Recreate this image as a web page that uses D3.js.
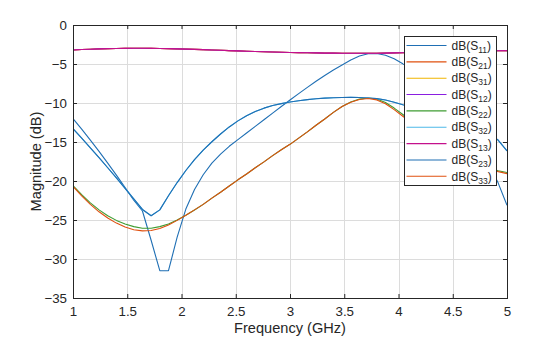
<!DOCTYPE html>
<html>
<head>
<meta charset="utf-8">
<script src="https://cdn.jsdelivr.net/npm/d3@7/dist/d3.min.js"></script>
<style>
  html, body { margin: 0; padding: 0; background: #ffffff; }
  svg { display: block; font-family: "Liberation Sans", Arial, Helvetica, sans-serif; }
</style>
</head>
<body>
<svg id="chart" width="560" height="337"></svg>
<script>
// Frequency sweep: 51 points from 1 to 5 GHz
const freqGHz = [1.00,1.08,1.16,1.24,1.32,1.40,1.48,1.56,1.64,1.72,1.80,1.88,1.96,2.04,2.12,2.20,2.28,2.36,2.44,2.52,
  2.60,2.68,2.76,2.84,2.92,3.00,3.08,3.16,3.24,3.32,3.40,3.48,3.56,3.64,3.72,3.80,3.88,3.96,4.04,4.12,
  4.20,4.28,4.36,4.44,4.52,4.60,4.68,4.76,4.84,4.92,5.00];

// Input reflection
const s11 = [-12.0,-13.35,-14.75,-16.2,-17.7,-19.25,-20.85,-22.45,-23.85,-27.6,-31.5,-31.5,-27.2,-23.6,-21.1,-19.2,-17.7,-16.55,-15.55,-14.7,
  -13.85,-13.0,-12.15,-11.3,-10.45,-9.62,-8.8,-8.0,-7.22,-6.48,-5.78,-5.13,-4.5,-3.98,-3.68,-3.65,-3.88,-4.33,-4.98,-5.67,
  -6.45,-7.35,-8.4,-9.6,-10.95,-12.45,-14.1,-15.95,-18.0,-20.3,-23.1];

// Transmission 1 <-> 2 and 1 <-> 3 (reciprocal, equal split)
const sThrough = [-3.2,-3.15,-3.1,-3.06,-3.03,-3.01,-3.0,-2.99,-2.99,-3.0,-3.01,-3.03,-3.06,-3.09,-3.12,-3.16,-3.2,-3.24,-3.28,-3.32,
  -3.36,-3.4,-3.43,-3.46,-3.49,-3.52,-3.54,-3.56,-3.58,-3.6,-3.61,-3.62,-3.63,-3.63,-3.63,-3.62,-3.6,-3.58,-3.55,-3.52,
  -3.49,-3.46,-3.43,-3.41,-3.38,-3.36,-3.34,-3.32,-3.31,-3.3,-3.29];

// Output port reflections
const s22 = [-20.6,-21.75,-22.8,-23.7,-24.45,-25.05,-25.5,-25.85,-26.05,-26.05,-25.85,-25.5,-25.0,-24.4,-23.72,-23.0,-22.2,-21.45,-20.65,-19.85,
  -19.1,-18.3,-17.55,-16.75,-16.0,-15.3,-14.5,-13.7,-12.85,-12.05,-11.2,-10.45,-9.88,-9.5,-9.35,-9.48,-9.93,-10.65,-11.48,-12.32,
  -13.17,-14.02,-14.83,-15.6,-16.3,-16.92,-17.48,-17.95,-18.36,-18.68,-18.92];
const s33 = [-20.7,-21.9,-23.0,-23.95,-24.75,-25.4,-25.9,-26.25,-26.4,-26.35,-26.1,-25.65,-25.05,-24.4,-23.7,-23.0,-22.2,-21.45,-20.65,-19.85,
  -19.1,-18.3,-17.55,-16.75,-16.0,-15.3,-14.5,-13.7,-12.85,-12.05,-11.2,-10.45,-9.9,-9.55,-9.42,-9.6,-10.1,-10.85,-11.7,-12.55,
  -13.4,-14.25,-15.05,-15.8,-16.5,-17.1,-17.65,-18.1,-18.5,-18.8,-19.05];

// Isolation between output ports (reciprocal)
const s23 = [-13.3,-14.5,-15.75,-17.0,-18.3,-19.6,-20.95,-22.3,-23.65,-24.45,-23.7,-21.9,-20.2,-18.65,-17.25,-16.03,-14.97,-13.97,-13.07,-12.29,
  -11.63,-11.09,-10.66,-10.32,-10.08,-9.88,-9.71,-9.57,-9.46,-9.38,-9.32,-9.29,-9.28,-9.3,-9.35,-9.44,-9.62,-9.9,-10.22,-10.5,
  -10.78,-11.07,-11.37,-11.69,-12.04,-12.43,-12.87,-13.38,-13.98,-14.78,-16.15];

const seriesNames = ["11","21","31","12","22","32","13","23","33"];
const seriesValues = [s11, sThrough, sThrough, sThrough, s22, s23, sThrough, s23, s33];
const seriesColors = ["#1f6fb4","#e0500f","#f0b400","#8a1ee0","#3f9c32","#4db8e8","#c4108c","#1f6fb4","#e0500f"];

const xTicks = [1,1.5,2,2.5,3,3.5,4,4.5,5];
const yTicks = [0,-5,-10,-15,-20,-25,-30,-35];

const svg = d3.select("#chart");
const plot = {left: 73, right: 507, top: 25, bottom: 298};
const axisColor = "#262626";

const x = d3.scaleLinear().domain([1, 5]).range([plot.left, plot.right]);
const y = d3.scaleLinear().domain([-35, 0]).range([plot.bottom, plot.top]);

// white plot background
svg.append("rect")
  .attr("x", plot.left).attr("y", plot.top)
  .attr("width", plot.right - plot.left).attr("height", plot.bottom - plot.top)
  .attr("fill", "#ffffff");

// grid
const grid = svg.append("g").attr("stroke", "#dcdcdc").attr("stroke-width", 1).attr("shape-rendering", "crispEdges");
grid.selectAll("line.gx").data(xTicks.slice(1, -1)).join("line")
  .attr("x1", d => Math.round(x(d)) + 0.5).attr("x2", d => Math.round(x(d)) + 0.5)
  .attr("y1", plot.top).attr("y2", plot.bottom);
grid.selectAll("line.gy").data(yTicks.slice(1, -1)).join("line")
  .attr("y1", d => Math.round(y(d)) + 0.5).attr("y2", d => Math.round(y(d)) + 0.5)
  .attr("x1", plot.left).attr("x2", plot.right);

// curves
const line = d3.line()
  .x((d, i) => x(freqGHz[i]))
  .y(d => y(d));
svg.append("clipPath").attr("id", "clip").append("rect")
  .attr("x", plot.left).attr("y", plot.top)
  .attr("width", plot.right - plot.left).attr("height", plot.bottom - plot.top);
const curves = svg.append("g").attr("clip-path", "url(#clip)");
seriesValues.forEach((vals, k) => {
  curves.append("path")
    .datum(vals)
    .attr("d", line)
    .attr("fill", "none")
    .attr("stroke", seriesColors[k])
    .attr("stroke-width", 1.1)
    .attr("stroke-linejoin", "round");
});

// axes (box with inward ticks on all four sides)
const tickLen = 4;
const tickFont = "13.3px";
const xBottom = d3.axisBottom(x).tickValues(xTicks).tickSize(-tickLen).tickPadding(9).tickFormat(d3.format("~g"));
const xTop = d3.axisTop(x).tickValues(xTicks).tickSize(-tickLen).tickFormat("");
const yLeft = d3.axisLeft(y).tickValues(yTicks).tickSize(-tickLen).tickPadding(6).tickFormat(d3.format("~g"));
const yRight = d3.axisRight(y).tickValues(yTicks).tickSize(-tickLen).tickFormat("");

function styleAxis(g) {
  g.selectAll("line").attr("stroke", axisColor).attr("stroke-width", 1);
  g.selectAll("text").attr("fill", axisColor).attr("font-size", tickFont)
    .attr("font-family", "'Liberation Sans', Arial, sans-serif");
  g.select(".domain").remove();
}
svg.append("g").attr("transform", `translate(0,${plot.bottom})`).call(xBottom).call(styleAxis);
svg.append("g").attr("transform", `translate(0,${plot.top})`).call(xTop).call(styleAxis);
svg.append("g").attr("transform", `translate(${plot.left},0)`).call(yLeft).call(styleAxis);
svg.append("g").attr("transform", `translate(${plot.right},0)`).call(yRight).call(styleAxis);

svg.append("rect")
  .attr("x", plot.left + 0.5).attr("y", plot.top + 0.5)
  .attr("width", plot.right - plot.left).attr("height", plot.bottom - plot.top)
  .attr("fill", "none").attr("stroke", axisColor).attr("stroke-width", 1)
  .attr("shape-rendering", "crispEdges");

// axis titles
svg.append("text")
  .attr("x", (plot.left + plot.right) / 2).attr("y", 333)
  .attr("text-anchor", "middle").attr("font-size", "14.6px").attr("fill", axisColor)
  .text("Frequency (GHz)");
svg.append("text")
  .attr("transform", `translate(41,${(plot.top + plot.bottom) / 2}) rotate(-90)`)
  .attr("text-anchor", "middle").attr("font-size", "14.6px").attr("fill", axisColor)
  .text("Magnitude (dB)");

// legend
const legend = {x: 404, y: 36, w: 92, h: 149, rowH: 16.35, firstRow: 45.5};
const lg = svg.append("g");
lg.append("rect")
  .attr("x", legend.x + 0.5).attr("y", legend.y + 0.5)
  .attr("width", legend.w).attr("height", legend.h)
  .attr("fill", "#ffffff").attr("stroke", axisColor).attr("stroke-width", 1)
  .attr("shape-rendering", "crispEdges");
seriesNames.forEach((name, k) => {
  const cy = legend.firstRow + k * legend.rowH;
  lg.append("line")
    .attr("x1", 406.5).attr("x2", 446.5).attr("y1", cy).attr("y2", cy)
    .attr("stroke", seriesColors[k]).attr("stroke-width", 1.1);
  const t = lg.append("text")
    .attr("x", 451.5).attr("y", cy + 4.2)
    .attr("font-size", "12px").attr("fill", axisColor);
  t.append("tspan").text("dB(S");
  t.append("tspan").attr("font-size", "8.5px").attr("dy", 3).text(name);
  t.append("tspan").attr("dy", -3).text(")");
});
</script>
</body>
</html>
